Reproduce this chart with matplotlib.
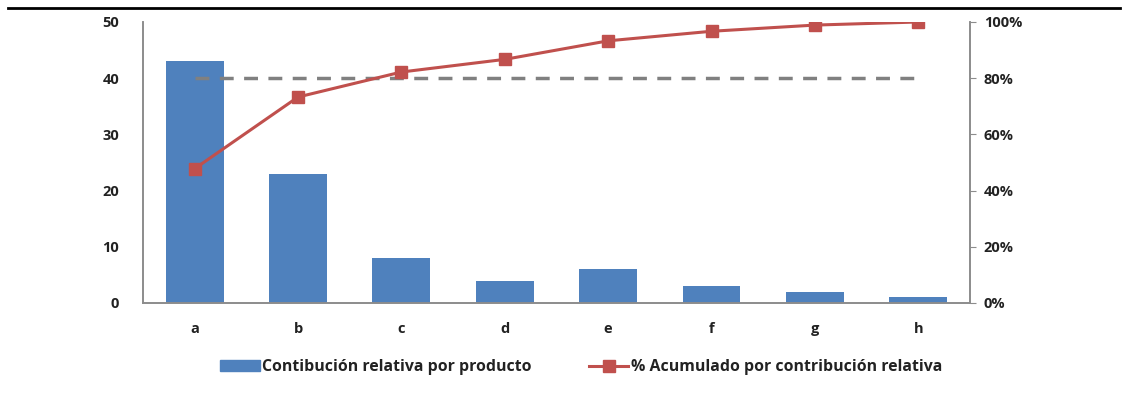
import matplotlib.pyplot as plt
from matplotlib.lines import Line2D
from matplotlib.patches import Patch

# Data
productos = ['a', 'b', 'c', 'd', 'e', 'f', 'g', 'h']
contribucion = [43, 23, 8, 4, 6, 3, 2, 1]
acumulado = [47.8, 73.3, 82.2, 86.7, 93.3, 96.7, 98.9, 100]
umbral = [80, 80, 80, 80, 80, 80, 80, 80]

plt.rcParams['font.family'] = ['Open Sans', 'DejaVu Sans']

fig = plt.figure(figsize=(11.31, 3.97), dpi=100)
ax = fig.add_axes([0.1264, 0.2368, 0.7312, 0.7078])
ax2 = ax.twinx()

x = range(len(productos))
ax.bar(x, contribucion, width=0.56, color='#4F81BD', zorder=2)
ax.set_ylim(0, 50)
ax.set_xlim(-0.5, len(productos) - 0.5)
ax.set_yticks([0, 10, 20, 30, 40, 50])
ax.set_xticks(list(x))
ax.set_xticklabels(productos)

ax2.plot(x, umbral, color='#808080', lw=2.5, dashes=(4, 3), zorder=3)
ax2.plot(x, acumulado, color='#C0504D', lw=2.2, marker='s', ms=9,
         markeredgecolor='#C0504D', zorder=4)
ax2.set_ylim(0, 100)
ax2.set_yticks([0, 20, 40, 60, 80, 100])
ax2.set_yticklabels([f'{v}%' for v in [0, 20, 40, 60, 80, 100]])

for a in (ax, ax2):
    a.spines['top'].set_visible(False)
    for s in ('left', 'right', 'bottom'):
        a.spines[s].set_color('#8c8c8c')
        a.spines[s].set_linewidth(1.2)
    a.tick_params(colors='#8c8c8c', labelcolor='#222222', labelsize=10.5, length=4)
    for lab in a.get_yticklabels() + a.get_xticklabels():
        lab.set_fontweight('bold')
ax.tick_params(axis='x', length=0, pad=14)
ax.tick_params(axis='y', length=0, pad=17)
ax2.tick_params(axis='y', pad=6)
ax2.set_zorder(ax.get_zorder() + 1)
ax2.patch.set_visible(False)

# top rule
fig.add_artist(Line2D([0.007, 0.99], [0.98, 0.98], color='black', lw=2,
                      transform=fig.transFigure))

handles = [Patch(color='#4F81BD'),
           Line2D([0], [0], color='#C0504D', lw=2.2, marker='s', ms=9)]
labels = ['Contibución relativa por producto', '% Acumulado por contribución relativa']
leg = fig.legend(handles, labels, loc='center', bbox_to_anchor=(0.514, 0.075),
                 ncol=2, frameon=False, handlelength=2.5, handletextpad=0.15,
                 columnspacing=3.6, prop={'weight': 'bold', 'size': 11.4})
for t in leg.get_texts():
    t.set_color('#222222')

fig.savefig('out.png', dpi=100)
